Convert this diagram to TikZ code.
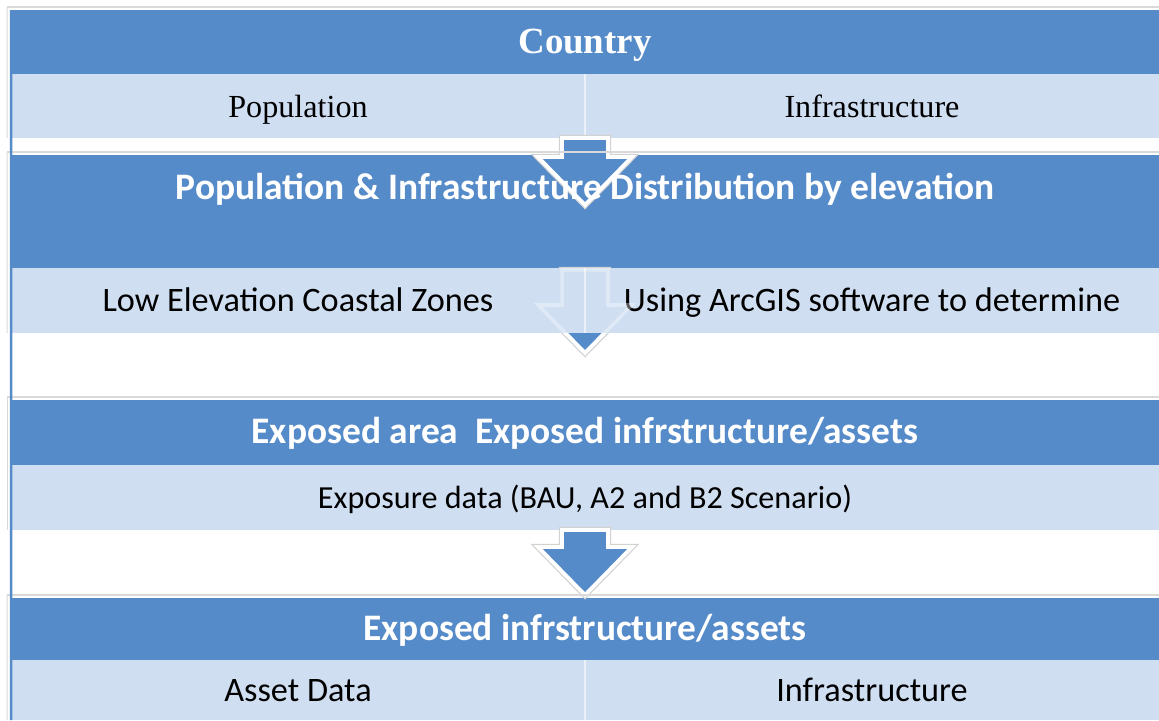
\documentclass[tikz,border=0pt]{standalone}
\usepackage{fontspec}
\setmainfont{Liberation Serif}
\setsansfont{Carlito}
\usetikzlibrary{calc}

\definecolor{bandblue}{HTML}{568BCA}
\definecolor{bandlight}{HTML}{D0DEF2}

% block arrow: #1 style, #2 top of shaft, #3 tip
\newcommand{\blockarrow}[3]{%
  \path[#1] let \p1=#2, \p2=#3 in
    (\x1-0.46cm,\y1) -- (\x1+0.46cm,\y1) -- (\x1+0.46cm,\y2+0.96cm)
    -- (\x1+0.94cm,\y2+0.96cm) -- (\x2,\y2) -- (\x1-0.94cm,\y2+0.96cm)
    -- (\x1-0.46cm,\y2+0.96cm) -- cycle;}

\begin{document}
\begin{tikzpicture}[
    x=0.02cm, y=-0.02cm,
    band/.style={rectangle, inner sep=0pt, outer sep=0pt, minimum width=22.96cm,
      text height=13pt, text depth=0pt},
    head/.style={band, fill=bandblue},
    sub/.style={band, fill=bandlight},
    cell/.style={sub, minimum width=11.48cm},
    headtxt/.style={text=white, font=\sffamily\bfseries\fontsize{21.3}{24}\selectfont},
    subtxt/.style={font=\sffamily\fontsize{19.5}{22}\selectfont},
    seriftxt/.style={font=\fontsize{18.3}{21}\selectfont},
    frameline/.style={draw=gray!30, line width=0.6pt},
    divider/.style={draw=white, opacity=0.6, line width=0.8pt},
    flowarrow/.style={fill=bandblue, draw=white, line width=2.2pt, line join=miter,
      preaction={draw=gray!35, line width=3.6pt}},
    ghostarrow/.style={draw=white, opacity=0.35, line width=2pt, line join=miter}
]
\useasboundingbox (0,0) rectangle (1159,720);

% Country
\node[head, minimum height=1.28cm, text=white, font=\bfseries\fontsize{21}{24}\selectfont] (country) at (585,42) {Country};
\node[cell, minimum height=1.28cm, seriftxt] (pop) at (298,106) {Population};
\node[cell, minimum height=1.28cm, seriftxt] (infra) at (872,106) {Infrastructure};
\draw[divider] (pop.north east) -- (pop.south east);

% Distribution by elevation
\node[head, minimum height=2.26cm] (distrib) at (585,211.5) {};
\blockarrow{flowarrow}{(pop.south east)}{($(distrib.north)+(0,50)$)}
\node[headtxt, text height=13pt, text depth=0pt, inner sep=0pt] (distribtxt) at (585,188) {Population \& Infrastructure Distribution by elevation};
\blockarrow{flowarrow}{($(distrib.south)+(0,2)$)}{($(distrib.south)+(0,85)$)}
\node[cell, minimum height=1.3cm, subtxt] (lez) at (298,300.5) {Low Elevation Coastal Zones};
\node[cell, minimum height=1.3cm, subtxt] (arcgis) at (872,300.5) {Using ArcGIS software to determine};
\draw[divider] (lez.north east) -- (lez.south east);
\blockarrow{ghostarrow}{($(distrib.south)+(0,2)$)}{($(distrib.south)+(0,85)$)}

% Exposed area
\node[head, minimum height=1.3cm, headtxt] (exposed) at (585,432.5) {Exposed area\ \ Exposed infrstructure/assets};
\node[sub, minimum height=1.3cm, font=\sffamily\fontsize{18.3}{21}\selectfont] (expo) at (585,497.5) {Exposure data (BAU, A2 and B2 Scenario)};

% Exposed assets
\node[head, minimum height=1.24cm, headtxt] (assets) at (585,629) {Exposed infrstructure/assets};
\node[cell, minimum height=1.2cm, subtxt] (assetdata) at (298,690) {Asset Data};
\node[cell, minimum height=1.2cm, subtxt] (infra2) at (872,690) {Infrastructure};
\draw[divider] (assetdata.north east) -- (assetdata.south east);
\blockarrow{flowarrow}{(expo.south)}{($(assets.north)+(0,-3)$)}

% frame
\foreach \h/\s in {country/pop, distrib/lez, exposed/expo, assets/assetdata}{
  \draw[frameline] ($(\h.north west)+(-4,-3)$) -- ($(\h.north east)+(0,-3)$);
  \draw[frameline] ($(\h.north west)+(-4,-3)$) -- ($(\s.south west)+(-4,0)$);
}
\draw[bandblue, line width=1.4pt] (country.north west) -- (assetdata.south west);
\end{tikzpicture}
\end{document}
